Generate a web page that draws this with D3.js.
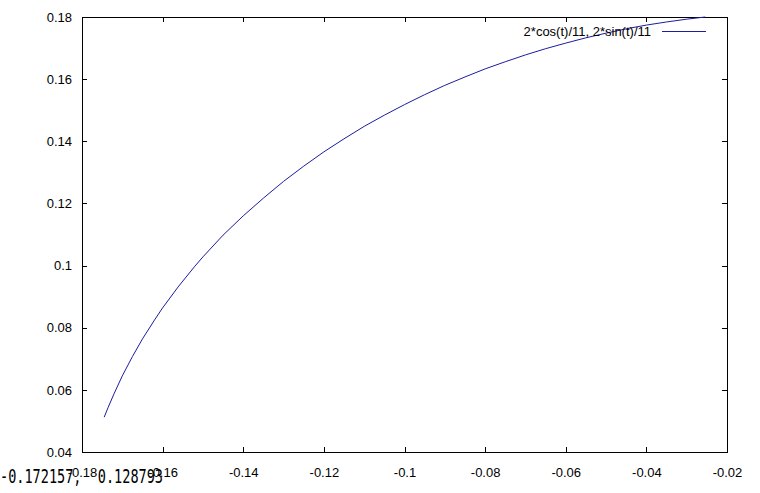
<!DOCTYPE html>
<html><head><meta charset="utf-8">
<script src="https://cdn.jsdelivr.net/npm/d3@7"></script>
<style>body{margin:0;background:#fff}svg{display:block}</style>
</head><body>
<script>
const xTicks=[-0.18,-0.16,-0.14,-0.12,-0.1,-0.08,-0.06,-0.04,-0.02];
const yTicks=[0.04,0.06,0.08,0.1,0.12,0.14,0.16,0.18];
const xTickLabels=["-0.18","-0.16","-0.14","-0.12","-0.1","-0.08","-0.06","-0.04","-0.02"];
const yTickLabels=["0.04","0.06","0.08","0.1","0.12","0.14","0.16","0.18"];
const curveX=[-0.1745,-0.1735,-0.1720,-0.1700,-0.1675,-0.1650,-0.1620,-0.1600,-0.1560,-0.1520,-0.1500,-0.1450,-0.1400,-0.1350,-0.1300,-0.1250,-0.1200,-0.1150,-0.1100,-0.1050,-0.1000,-0.0950,-0.0900,-0.0850,-0.0800,-0.0750,-0.0700,-0.0650,-0.0600,-0.0550,-0.0500,-0.0450,-0.0400,-0.0350,-0.0300,-0.0254];
const curveY=[0.0512,0.0544,0.0589,0.0645,0.0707,0.0764,0.0825,0.0864,0.0934,0.0998,0.1028,0.1098,0.1160,0.1217,0.1271,0.1320,0.1366,0.1408,0.1448,0.1484,0.1518,0.1550,0.1580,0.1607,0.1633,0.1656,0.1678,0.1698,0.1716,0.1733,0.1748,0.1762,0.1774,0.1784,0.1793,0.1800];
const legendLabel="2*cos(t)/11, 2*sin(t)/11";
const statusText="-0.172157,  0.128793";

(function(){
const W=760,H=493;
const L=82,R=727,T=17,B=452;
const FONT="'Liberation Sans',Arial,sans-serif";
const svg=d3.select("body").append("svg").attr("width",W).attr("height",H);
const x=d3.scaleLinear().domain([-0.18,-0.02]).range([L,R]);
const y=d3.scaleLinear().domain([0.04,0.18]).range([B,T]);
const tl=5;
const g=svg.append("g").attr("shape-rendering","crispEdges");
const axB=d3.axisBottom(x).tickValues(xTicks).tickFormat((d,i)=>xTickLabels[i]).tickSize(-tl).tickPadding(16);
const axT=d3.axisTop(x).tickValues(xTicks).tickFormat("").tickSize(-tl);
const axL=d3.axisLeft(y).tickValues(yTicks).tickFormat((d,i)=>yTickLabels[i]).tickSize(-tl).tickPadding(10);
const axR=d3.axisRight(y).tickValues(yTicks).tickFormat("").tickSize(-tl);
function style(sel){sel.select(".domain").remove();sel.selectAll("line").attr("stroke","#000");sel.selectAll("text").attr("fill","#000").style("font-size","13px").style("font-family",FONT);}
g.append("g").attr("transform",`translate(0,${B})`).call(axB).call(style);
g.append("g").attr("transform",`translate(0,${T})`).call(axT).call(style);
g.append("g").attr("transform",`translate(${L},0)`).call(axL).call(style);
g.append("g").attr("transform",`translate(${R},0)`).call(axR).call(style);
g.append("rect").attr("x",L).attr("y",T).attr("width",R-L).attr("height",B-T).attr("fill","none").attr("stroke","#000");
const pts=curveX.map((v,i)=>[v,curveY[i]]);
svg.append("path").datum(pts).attr("fill","none").attr("stroke","#1c1ca0").attr("stroke-width",1)
  .attr("d",d3.line().x(d=>x(d[0])).y(d=>y(d[1])));
svg.append("text").attr("x",651).attr("y",36).attr("text-anchor","end").style("font-size","13px").style("font-family",FONT).attr("fill","#000").text(legendLabel);
svg.append("line").attr("x1",662).attr("x2",706).attr("y1",31.5).attr("y2",31.5).attr("stroke","#1c1ca0").attr("shape-rendering","crispEdges");
svg.append("text").attr("x",0).attr("y",483).attr("textLength",163).attr("lengthAdjust","spacingAndGlyphs")
  .style("font-size","19px").style("font-family","'DejaVu Sans Mono',monospace").style("white-space","pre").attr("fill","#000").text(statusText);
})();
</script>
</body></html>
